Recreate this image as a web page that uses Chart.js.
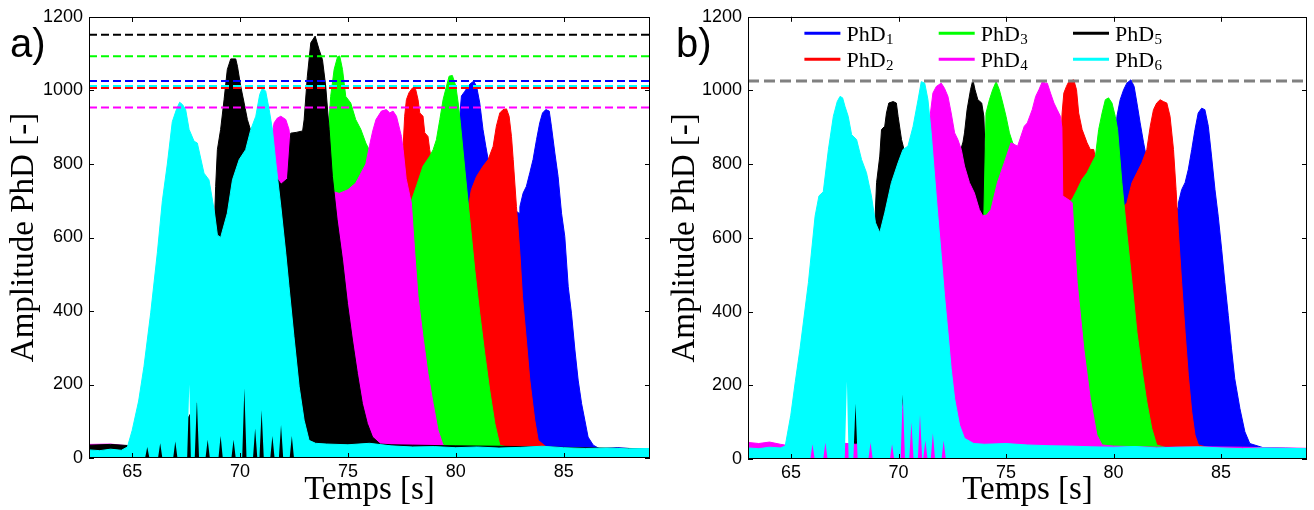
<!DOCTYPE html>
<html><head><meta charset="utf-8">
<script src="https://cdn.jsdelivr.net/npm/chart.js@4.4.0/dist/chart.umd.min.js"></script>
<style>
html,body{margin:0;padding:0;background:#fff;width:1314px;height:510px;overflow:hidden}
#wa{position:absolute;left:0;top:0;width:655px;height:510px}
#wb{position:absolute;left:655px;top:0;width:659px;height:510px}
canvas{display:block}
</style></head><body>
<div id="wa"><canvas id="ca" width="655" height="510"></canvas></div>
<div id="wb"><canvas id="cb" width="659" height="510"></canvas></div>
<script>
// ---- axis ranges & ticks ----
const X_MIN = 63, X_MAX = 89, Y_MIN = 0, Y_MAX = 1200;
const X_TICKS = [65, 70, 75, 80, 85];
const Y_TICKS = [0, 200, 400, 600, 800, 1000, 1200];
const SERIES_NAMES = ['PhD1', 'PhD2', 'PhD3', 'PhD4', 'PhD5', 'PhD6'];
const COLORS = ['#0000ff', '#ff0000', '#00ff00', '#ff00ff', '#000000', '#00ffff'];

// ---- panel a) : signal envelopes [time s, amplitude] ----
const A_BLUE = [[63,24],[66,24],[70,24],[75,24],[78,25],[79.5,300],[80.0,800],[80.26,985],[80.42,998],[80.57,1012],[80.72,1021],[80.83,1025],[80.96,1012],[81.11,966],[81.26,894],[81.39,848],[81.5,812],[81.8,760],[82.2,720],[82.6,680],[82.93,666],[82.97,684],[83.12,721],[83.27,739],[83.43,776],[83.58,812],[83.74,866],[83.89,912],[84.02,939],[84.17,948],[84.33,944],[84.43,903],[84.59,830],[84.74,766],[84.9,666],[85.05,603],[85.21,466],[85.36,394],[85.52,294],[85.67,212],[85.83,148],[85.98,103],[86.13,57],[86.37,35],[86.67,25],[87.5,28],[88.5,24],[89,25]];
const A_RED = [[63,24],[66,24],[70,25],[74,26],[76,30],[77,300],[77.4,700],[77.56,850],[77.63,930],[77.71,975],[77.83,994],[77.99,1007],[78.14,1003],[78.25,975],[78.33,939],[78.48,930],[78.56,885],[78.71,875],[78.79,839],[78.87,812],[79.3,760],[79.8,700],[80.3,650],[80.6,690],[80.72,730],[80.96,766],[81.26,794],[81.5,812],[81.73,848],[81.88,903],[82.04,939],[82.19,948],[82.35,950],[82.47,930],[82.58,875],[82.66,812],[82.81,684],[82.97,557],[83.09,439],[83.27,321],[83.43,212],[83.66,103],[83.82,48],[84.2,30],[86,25],[88,24],[89,24]];
const A_GREEN = [[63,25],[65,25],[66.5,30],[66.6,35],[67,30],[69,30],[71,35],[72,40],[73,200],[73.9,700],[74.13,920],[74.2,984],[74.36,1057],[74.52,1092],[74.62,1094],[74.75,1057],[74.9,984],[75.13,966],[75.36,921],[75.6,894],[75.83,857],[76.06,830],[76.5,800],[77,760],[77.5,720],[77.94,700],[78.17,739],[78.48,794],[78.79,821],[78.95,839],[79.1,866],[79.26,921],[79.41,975],[79.57,1012],[79.69,1039],[79.84,1041],[80.0,1012],[80.11,966],[80.21,912],[80.42,785],[80.65,648],[80.88,512],[81.11,394],[81.34,285],[81.57,185],[81.81,94],[82.04,35],[82.5,28],[84,26],[86,25],[88,24],[89,24]];
const A_MAGENTA = [[63,37],[64,38],[64.8,33],[65.5,20],[66.5,30],[67.5,30],[68.5,45],[69.5,200],[70.5,500],[71.0,700],[71.4,850],[71.58,912],[71.73,925],[71.89,930],[72.12,921],[72.27,894],[72.35,848],[72.6,820],[73,800],[73.5,760],[74,730],[74.6,720],[75.0,730],[75.36,748],[75.83,800],[76.0,850],[76.15,890],[76.3,921],[76.55,944],[76.78,948],[76.94,939],[77.09,944],[77.25,930],[77.48,875],[77.56,839],[77.7,760],[77.94,694],[78.1,557],[78.25,439],[78.48,330],[78.71,230],[78.95,148],[79.18,75],[79.41,35],[79.7,30],[80,28],[82,27],[84,26],[86,25],[88,24],[89,24]];
const A_BLACK = [[63,35],[64,37],[64.8,34],[65.5,30],[66,50],[66.5,40],[67,60],[67.5,100],[68,150],[68.5,300],[68.8,612],[68.87,739],[68.95,839],[69.1,894],[69.26,975],[69.41,1057],[69.57,1086],[69.8,1086],[69.88,1066],[70.03,1012],[70.19,966],[70.34,921],[70.5,890],[70.8,900],[71.2,860],[71.6,770],[71.9,745],[72.2,760],[72.35,884],[72.6,886],[72.9,890],[72.97,920],[73.12,1039],[73.28,1130],[73.48,1148],[73.66,1112],[73.82,1084],[73.97,1012],[74.13,894],[74.28,766],[74.5,648],[74.75,539],[74.98,420],[75.21,321],[75.44,230],[75.67,148],[75.9,94],[76.14,57],[76.5,38],[77,36],[78,35],[80,33],[82,32],[84,30],[86,28],[88,26],[89,25]];
const A_CYAN = [[63,22],[63.5,20],[64,24],[64.5,21],[64.78,30],[65.0,75],[65.3,155],[65.55,250],[65.86,395],[66.17,560],[66.4,700],[66.63,800],[66.86,915],[67.05,948],[67.2,968],[67.33,962],[67.48,948],[67.64,894],[67.87,862],[68.02,857],[68.33,775],[68.56,757],[68.8,675],[68.95,607],[69.1,600],[69.41,666],[69.65,757],[69.96,812],[70.26,839],[70.5,894],[70.73,930],[70.91,989],[71.04,1007],[71.19,998],[71.35,948],[71.5,894],[71.66,803],[71.89,685],[72.12,557],[72.27,466],[72.5,330],[72.74,194],[72.97,103],[73.2,48],[73.5,40],[74,38],[75,36],[76,40],[77,33],[78,30],[79,31],[80,28],[81,30],[82,27],[83,29],[84,32],[85,28],[86,26],[87,27],[88,25],[89,26]];
// lower edge of the cyan trace in a) (dips let the traces behind show through)
const A_CYAN_LOW = [[63,0],[65.6,0],[65.7,30],[65.8,0],[66.2,0],[66.3,40],[66.4,0],[66.9,0],[67.0,45],[67.1,0],[67.55,0],[67.65,200],[67.72,0],[67.9,0],[68.0,160],[68.1,0],[68.4,0],[68.5,50],[68.6,0],[69.0,0],[69.1,60],[69.2,0],[69.6,0],[69.7,50],[69.8,0],[70.1,0],[70.2,190],[70.3,0],[70.6,0],[70.7,80],[70.8,0],[70.9,0],[71.0,130],[71.1,0],[71.4,0],[71.5,60],[71.6,0],[71.8,0],[71.9,90],[72.0,0],[72.3,0],[72.4,60],[72.5,0],[89,0]];
// maximum of each sensor in a) (dashed lines), order PhD1..PhD6
const A_MAXIMA = [1026, 1007, 1093, 954, 1152, 1012];

// ---- panel b) : signal envelopes [time s, amplitude] ----
const B_BLUE = [[63,28],[66,28],[70,28],[75,28],[78,30],[79.5,300],[79.9,750],[80.16,930],[80.31,975],[80.47,1002],[80.62,1020],[80.81,1029],[80.96,1011],[81.09,966],[81.24,912],[81.4,858],[81.52,822],[81.9,760],[82.3,720],[82.7,690],[83.0,680],[83.02,695],[83.17,731],[83.33,750],[83.48,786],[83.64,840],[83.79,894],[83.94,939],[84.1,952],[84.25,948],[84.41,903],[84.56,822],[84.72,731],[84.87,659],[85.03,569],[85.18,479],[85.34,389],[85.49,299],[85.64,218],[85.88,137],[86.11,74],[86.34,42],[87,30],[88,29],[89,28]];
const B_RED = [[63,26],[66,26],[70,27],[74,28],[76,30],[77,400],[77.5,800],[77.61,939],[77.69,993],[77.81,1011],[77.92,1024],[78.15,1029],[78.28,1002],[78.38,939],[78.54,894],[78.77,858],[78.92,840],[79.08,840],[79.2,804],[79.6,760],[80.0,720],[80.4,680],[80.62,695],[80.86,750],[81.09,777],[81.32,804],[81.55,840],[81.71,903],[81.86,948],[82.01,966],[82.17,975],[82.32,970],[82.48,966],[82.63,930],[82.79,840],[82.91,731],[83.02,614],[83.17,479],[83.33,344],[83.48,227],[83.64,128],[83.79,65],[83.95,38],[84.5,30],[86,28],[88,27],[89,26]];
const B_GREEN = [[63,28],[66,30],[70,30],[71,25],[71.2,45],[71.4,25],[72,35],[73,40],[73.9,300],[73.97,660],[74.07,939],[74.23,975],[74.38,1002],[74.54,1024],[74.69,1002],[74.85,966],[75.0,930],[75.16,885],[75.31,858],[75.6,830],[76,800],[77,760],[77.8,690],[78.08,705],[78.31,731],[78.54,759],[78.77,777],[79.0,804],[79.16,822],[79.31,894],[79.47,939],[79.62,975],[79.77,980],[79.93,966],[80.08,930],[80.19,894],[80.39,750],[80.62,614],[80.86,479],[81.09,344],[81.32,245],[81.55,155],[81.78,83],[82.01,38],[82.5,30],[84,28],[86,27],[89,26]];
const B_MAGENTA = [[63,45],[63.5,42],[64,46],[64.5,40],[65,35],[66,40],[67,45],[68,40],[69,45],[70,60],[70.8,400],[71.3,850],[71.6,993],[71.76,1011],[71.99,1020],[72.14,1006],[72.3,984],[72.45,939],[72.61,885],[72.76,867],[72.92,840],[73.07,795],[73.3,750],[73.53,722],[73.76,677],[73.92,660],[74.1,662],[74.3,677],[74.6,750],[74.92,804],[75.23,858],[75.54,849],[75.85,903],[75.99,912],[76.22,948],[76.38,984],[76.53,1002],[76.69,1024],[76.84,1020],[76.92,1020],[77.07,993],[77.23,966],[77.38,948],[77.53,930],[77.6,900],[77.64,714],[78.0,700],[78.08,695],[78.31,479],[78.62,299],[78.92,164],[79.23,65],[79.47,38],[80,35],[82,32],[84,33],[86,32],[88,30],[89,29]];
const B_BLACK = [[63,30],[65,30],[66,35],[67,40],[67.9,40],[68.0,150],[68.1,60],[68.5,300],[68.9,641],[68.98,750],[69.13,822],[69.21,894],[69.36,903],[69.44,939],[69.55,966],[69.75,970],[69.9,966],[69.98,930],[70.14,867],[70.3,830],[70.8,820],[71.5,800],[72.2,790],[72.7,800],[73.0,860],[73.07,885],[73.19,948],[73.35,1002],[73.46,1029],[73.56,1002],[73.69,975],[73.87,966],[73.97,930],[74.05,800],[74.5,600],[75,400],[75.5,200],[76,80],[76.5,40],[78,35],[82,32],[86,30],[89,28]];
const B_CYAN = [[63,30],[63.5,28],[64,32],[64.5,30],[64.73,35],[64.99,119],[65.2,210],[65.42,299],[65.81,479],[66.12,659],[66.3,714],[66.5,725],[66.74,840],[66.97,930],[67.15,970],[67.28,984],[67.4,980],[67.51,957],[67.66,930],[67.82,880],[68.05,867],[68.28,813],[68.51,777],[68.74,714],[68.93,641],[69.13,614],[69.36,668],[69.67,750],[69.98,804],[70.21,840],[70.44,849],[70.68,903],[70.91,975],[71.06,1024],[71.22,1020],[71.37,975],[71.52,885],[71.68,768],[71.83,660],[71.99,551],[72.14,443],[72.3,344],[72.45,245],[72.61,164],[72.84,92],[73.07,56],[73.5,42],[74,40],[75,42],[76,38],[77,36],[78,35],[79,33],[80,32],[81,34],[82,30],[83,32],[84,33],[85,30],[86,28],[87,30],[88,29],[89,28]];
const B_CYAN_LOW = [[63,0],[65.9,0],[66.0,40],[66.1,0],[66.5,0],[66.6,45],[66.7,0],[67.5,0],[67.6,210],[67.68,0],[67.9,0],[68.0,150],[68.1,0],[68.6,0],[68.7,45],[68.8,0],[69.6,0],[69.7,40],[69.8,0],[70.1,0],[70.2,175],[70.3,0],[70.5,0],[70.6,100],[70.7,0],[70.9,0],[71.0,120],[71.1,0],[71.15,0],[71.25,50],[71.35,0],[71.5,0],[71.6,70],[71.7,0],[72.0,0],[72.1,50],[72.2,0],[89,0]];
// common maximum in b)
const B_MAXIMA = [1026];

// drawing order (higher = drawn first / further back)
const A_ORDER = [6, 5, 4, 3, 2, 1];
const B_ORDER = [6, 5, 3, 2, 4, 1];

// ---------- plugins ----------
const framePlugin = {
  id: 'frame',
  afterDatasetsDraw(chart) {
    const {ctx, chartArea: a, scales: {x, y}} = chart;
    ctx.save();
    ctx.strokeStyle = '#000'; ctx.lineWidth = 1;
    ctx.strokeRect(Math.round(a.left) + 0.5, Math.round(a.top) + 0.5,
      Math.round(a.right - a.left) - 1, Math.round(a.bottom - a.top) - 1);
    ctx.beginPath();
    X_TICKS.forEach(v => {
      const px = Math.round(x.getPixelForValue(v)) + 0.5;
      ctx.moveTo(px, a.top); ctx.lineTo(px, a.top + 5);
      ctx.moveTo(px, a.bottom); ctx.lineTo(px, a.bottom - 5);
    });
    Y_TICKS.forEach(v => {
      const py = Math.round(y.getPixelForValue(v)) + 0.5;
      ctx.moveTo(a.left, py); ctx.lineTo(a.left + 5, py);
      ctx.moveTo(a.right, py); ctx.lineTo(a.right - 5, py);
    });
    ctx.stroke();
    ctx.restore();
  }
};
const labelPlugin = {
  id: 'panelLabel',
  afterDraw(chart, args, opts) {
    const ctx = chart.ctx;
    ctx.save();
    ctx.font = '40px "Liberation Sans", Arial, sans-serif';
    ctx.fillStyle = '#000'; ctx.textBaseline = 'alphabetic'; ctx.textAlign = 'left';
    ctx.fillText(opts.text, opts.x, opts.y);
    ctx.restore();
  }
};
const legendPlugin = {
  id: 'subLegend',
  afterDraw(chart, args, opts) {
    if (!opts.show) return;
    const ctx = chart.ctx;
    const colX = [149.4, 283.7, 418], rowY = [33.3, 59.3];
    ctx.save();
    SERIES_NAMES.forEach((name, i) => {
      const x0 = colX[Math.floor(i / 2)], y0 = rowY[i % 2];
      ctx.strokeStyle = COLORS[i]; ctx.lineWidth = 3;
      ctx.beginPath(); ctx.moveTo(x0, y0); ctx.lineTo(x0 + 36, y0); ctx.stroke();
      const base = name.slice(0, 3), sub = name.slice(3);
      ctx.fillStyle = '#000'; ctx.textBaseline = 'alphabetic'; ctx.textAlign = 'left';
      ctx.font = '22px "Liberation Serif", "Times New Roman", serif';
      ctx.fillText(base, x0 + 42, y0 + 7.4);
      const w = ctx.measureText(base).width;
      ctx.font = '15px "Liberation Serif", "Times New Roman", serif';
      ctx.fillText(sub, x0 + 42 + w + 0.5, y0 + 10.8);
    });
    ctx.restore();
  }
};

function buildChart(id, series, orders, cyanLow, maxima, maxColors, cfg) {
  const lowIndex = series.length;
  const datasets = series.map((s, i) => ({
    label: SERIES_NAMES[i],
    data: s.map(p => ({x: p[0], y: p[1]})),
    borderColor: COLORS[i], backgroundColor: COLORS[i], borderWidth: 1,
    fill: i === 5 ? lowIndex : 'origin', pointRadius: 0, tension: 0, order: orders[i]
  }));
  // lower edge of the last (cyan) trace: an invisible boundary line
  datasets.push({
    label: 'low', data: cyanLow.map(p => ({x: p[0], y: p[1]})),
    borderWidth: 0, borderColor: 'rgba(0,0,0,0)', fill: false, pointRadius: 0, tension: 0, order: 9
  });
  maxima.forEach((v, i) => datasets.push({
    label: 'max' + i,
    data: [{x: X_MIN, y: v}, {x: X_MAX, y: v}],
    borderColor: maxColors[i], borderWidth: cfg.dashWidth, borderDash: cfg.dash,
    fill: false, pointRadius: 0, order: 0
  }));
  const tickFont = {family: '"Liberation Sans", Arial, sans-serif', size: 18};
  const titleFont = {family: '"Liberation Serif", "Times New Roman", serif', size: 33};
  return new Chart(document.getElementById(id), {
    type: 'line',
    data: {datasets},
    plugins: [framePlugin, labelPlugin, legendPlugin],
    options: {
      responsive: false, animation: false, events: [],
      layout: {padding: {left: 0, right: cfg.padRight, top: cfg.padTop, bottom: 0}},
      plugins: {
        legend: {display: false}, tooltip: {enabled: false},
        panelLabel: {text: cfg.label, x: cfg.labelX, y: 57},
        subLegend: {show: cfg.legend}
      },
      scales: {
        x: {
          type: 'linear', min: X_MIN, max: X_MAX,
          afterBuildTicks: s => { s.ticks = X_TICKS.map(v => ({value: v})); },
          afterFit: s => { s.height = cfg.xHeight; },
          ticks: {font: tickFont, color: '#000', padding: 3, maxRotation: 0, autoSkip: false, callback: v => String(v)},
          grid: {display: false, drawTicks: false}, border: {display: false},
          title: {display: true, text: 'Temps [s]', font: titleFont, color: '#000', padding: {top: 0, bottom: 0}}
        },
        y: {
          type: 'linear', min: Y_MIN, max: Y_MAX,
          afterBuildTicks: s => { s.ticks = Y_TICKS.map(v => ({value: v})); },
          afterFit: s => { s.width = cfg.yWidth; },
          ticks: {font: tickFont, color: '#000', padding: 6, autoSkip: false, callback: v => String(v)},
          grid: {display: false, drawTicks: false}, border: {display: false},
          title: {display: true, text: 'Amplitude PhD [-]', font: titleFont, color: '#000', padding: {top: cfg.yTitlePad, bottom: 0}}
        }
      }
    }
  });
}

buildChart('ca', [A_BLUE, A_RED, A_GREEN, A_MAGENTA, A_BLACK, A_CYAN], A_ORDER, A_CYAN_LOW,
  A_MAXIMA, COLORS,
  {dashWidth: 2, dash: [8, 4], padRight: 5, padTop: 17, xHeight: 52, yWidth: 89,
   yTitlePad: 5, label: 'a)', labelX: 10, legend: false});
buildChart('cb', [B_BLUE, B_RED, B_GREEN, B_MAGENTA, B_BLACK, B_CYAN], B_ORDER, B_CYAN_LOW,
  B_MAXIMA, ['#808080'],
  {dashWidth: 3, dash: [11, 5], padRight: 7, padTop: 15, xHeight: 51, yWidth: 93,
   yTitlePad: 11, label: 'b)', labelX: 21, legend: true});
</script>
</body></html>
